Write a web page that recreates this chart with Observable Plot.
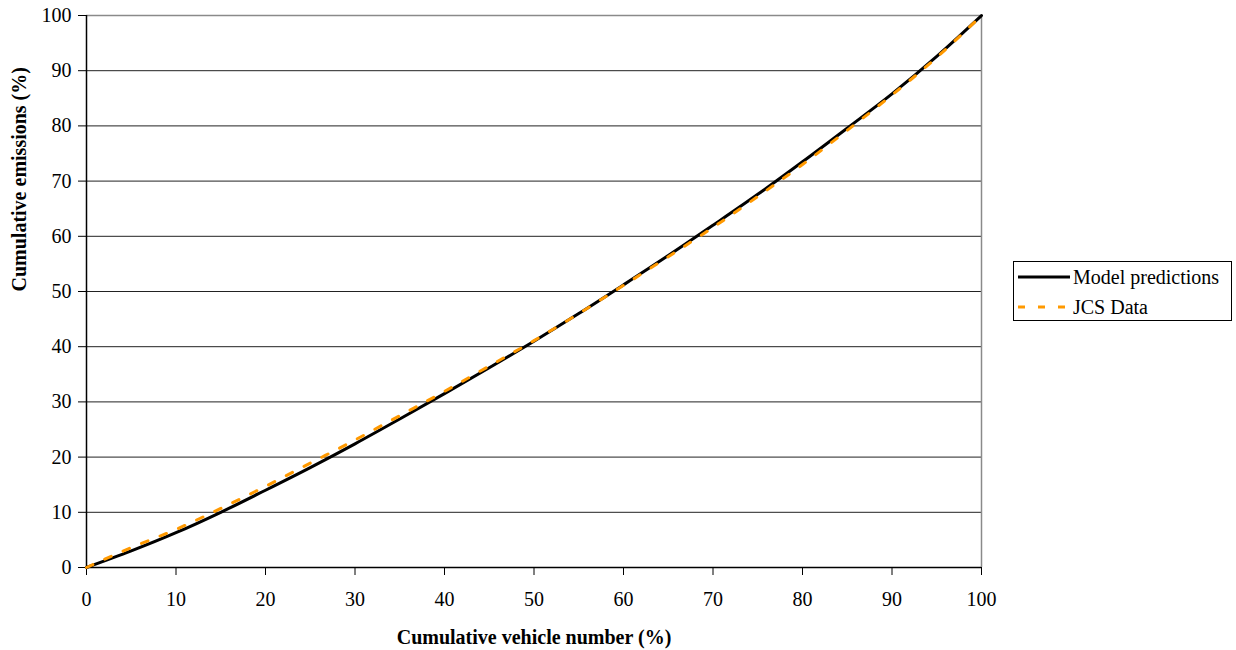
<!DOCTYPE html>
<html>
<head>
<meta charset="utf-8">
<script src="https://cdn.jsdelivr.net/npm/d3@7"></script>
<script src="https://cdn.jsdelivr.net/npm/@observablehq/plot@0.6"></script>
<style>
  html, body { margin: 0; padding: 0; background: #fff; }
  #wrap { position: relative; width: 1236px; height: 650px; font-family: "Liberation Serif", "Times New Roman", serif; }
  #legend { position: absolute; left: 1013px; top: 261px; width: 219px; height: 60px; border: 1px solid #000; background: #fff; box-sizing: border-box; font-size: 20px; color: #000; }
  .row { position: absolute; left: 0; height: 24px; display: flex; align-items: center; }
  .row svg { margin-left: 4px; margin-right: 3px; }
</style>
</head>
<body>
<div id="wrap"></div>
<script>
const xValues = [0, 5, 10, 15, 20, 25, 30, 35, 40, 45, 50, 55, 60, 65, 70, 75, 80, 85, 90, 95, 100];
const modelValues = [0, 3.0, 6.3, 10.0, 14.0, 18.1, 22.4, 26.9, 31.5, 36.2, 41.0, 46.0, 51.2, 56.5, 62.0, 67.6, 73.5, 79.6, 85.8, 92.6, 100];
const jcsValues = [0, 3.6, 6.9, 10.7, 14.7, 18.9, 23.1, 27.5, 31.9, 36.5, 41.1, 46.0, 51.1, 56.3, 61.6, 67.2, 73.0, 79.2, 85.6, 92.4, 100];
const ticks = [0, 10, 20, 30, 40, 50, 60, 70, 80, 90, 100];
const seriesNames = ["Model predictions", "JCS Data"];

const model = xValues.map((x, i) => ({x, y: modelValues[i]}));
const jcs = xValues.map((x, i) => ({x, y: jcsValues[i]}));

const chart = Plot.plot({
  width: 1236,
  height: 650,
  marginLeft: 86,
  marginRight: 255,
  marginTop: 15,
  marginBottom: 83,
  style: { fontFamily: "'Liberation Serif', 'Times New Roman', serif", fontSize: "20px", background: "#fff", color: "#000" },
  x: { domain: [0, 100], ticks: ticks, label: null },
  y: { domain: [0, 100], ticks: ticks, label: null },
  marks: [
    Plot.ruleY(ticks.filter(t => t > 0 && t < 100), { stroke: "#222", strokeWidth: 1 }),
    Plot.ruleY([100], { stroke: "#8a8a8a", strokeWidth: 1.5 }),
    Plot.ruleX([100], { stroke: "#8a8a8a", strokeWidth: 1.5 }),
    Plot.axisX({ ticks: ticks, tickSize: 8, tickPadding: 16, fontSize: 20, label: null }),
    Plot.axisY({ ticks: ticks, tickSize: 8, tickPadding: 7, fontSize: 20, label: null }),
    Plot.ruleX([0], { stroke: "#000", strokeWidth: 1.5 }),
    Plot.ruleY([0], { stroke: "#000", strokeWidth: 1.5 }),
    Plot.line(model, { x: "x", y: "y", stroke: "#000", strokeWidth: 3, curve: "monotone-x" }),
    Plot.line(jcs, { x: "x", y: "y", stroke: "#FF9900", strokeWidth: 3, strokeDasharray: "7,13", curve: "monotone-x" }),
    Plot.text(["Cumulative vehicle number (%)"], { frameAnchor: "bottom", dy: 76, text: d => d, fontWeight: "bold", fontSize: 20 }),
    Plot.text(["Cumulative emissions (%)"], { frameAnchor: "left", dx: -67, rotate: -90, text: d => d, fontWeight: "bold", fontSize: 20 })
  ]
});

const wrap = document.getElementById("wrap");
wrap.appendChild(chart);

const legend = document.createElement("div");
legend.id = "legend";
legend.innerHTML = `
  <div class="row" style="top:3px"><svg width="52" height="6"><line x1="0" y1="3" x2="52" y2="3" stroke="#000" stroke-width="3"/></svg><span>${seriesNames[0]}</span></div>
  <div class="row" style="top:33px"><svg width="52" height="6"><line x1="0" y1="3" x2="52" y2="3" stroke="#FF9900" stroke-width="3" stroke-dasharray="7,13"/></svg><span>${seriesNames[1]}</span></div>
`;
wrap.appendChild(legend);
</script>
</body>
</html>
